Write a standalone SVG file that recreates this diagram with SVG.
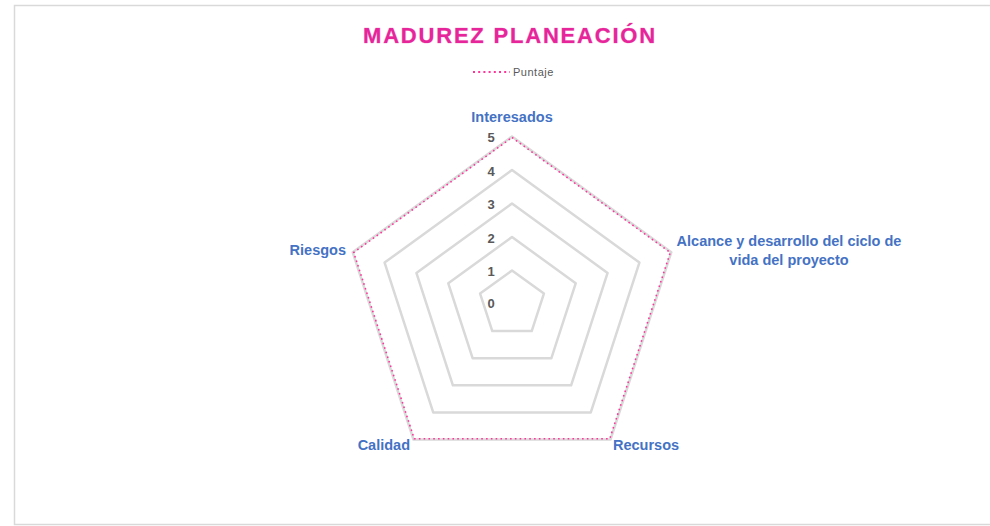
<svg xmlns="http://www.w3.org/2000/svg" width="990" height="526" viewBox="0 0 990 526">
<style>
.grid{fill:none;stroke:#d9d9d9;stroke-width:2.5;stroke-linejoin:round}
.series{fill:none;stroke:#ff3399;stroke-width:1.6;stroke-dasharray:1.6 3.2;stroke-linejoin:round}
.cat{font-family:"Liberation Sans",Arial,sans-serif;font-weight:bold;font-size:14.5px;fill:#4472c4}
.tick{font-family:"Liberation Sans",Arial,sans-serif;font-weight:bold;font-size:13px;fill:#595959}
.title{font-family:"Liberation Sans",Arial,sans-serif;font-weight:bold;font-size:22px;fill:#e6259b;letter-spacing:1.8px;stroke:#f7a6d3;stroke-width:0.6;paint-order:stroke}
.legend{font-family:"Liberation Sans",Arial,sans-serif;font-size:11px;fill:#595959;letter-spacing:0.5px}
</style>
<rect x="14.5" y="5.5" width="1000" height="519" fill="#ffffff" stroke="#d9d9d9" stroke-width="1.5"/>
<text class="title" x="510" y="43" text-anchor="middle">MADUREZ PLANEACIÓN</text>
<g id="legend">
<line x1="473" y1="72" x2="510" y2="72" stroke="#ff3399" stroke-width="2" stroke-dasharray="2 3.2"/>
<text class="legend" x="513" y="76">Puntaje</text>
</g>
<g id="grid">
<polygon class="grid" points="512,270.5 543.9,293.6 531.7,331.1 492.3,331.1 480.1,293.6"/>
<polygon class="grid" points="512,237 575.7,283.3 551.4,358.2 472.6,358.2 448.3,283.3"/>
<polygon class="grid" points="512,203.5 607.6,272.9 571.1,385.3 452.9,385.3 416.4,272.9"/>
<polygon class="grid" points="512,170 639.4,262.6 590.8,412.4 433.2,412.4 384.6,262.6"/>
<polygon class="grid" points="512,136.5 671.3,252.2 610.5,439.5 413.5,439.5 352.7,252.2"/>
</g>
<g id="connectors">
<polygon id="series-puntaje" class="series" points="512,137.5 670.3,252.5 609.8,438.7 414.2,438.7 353.7,252.5"/>
</g>
<g id="ticks">
<text class="tick" x="491" y="142" text-anchor="middle">5</text>
<text class="tick" x="491" y="175.5" text-anchor="middle">4</text>
<text class="tick" x="491" y="209" text-anchor="middle">3</text>
<text class="tick" x="491" y="242.5" text-anchor="middle">2</text>
<text class="tick" x="491" y="276" text-anchor="middle">1</text>
<text class="tick" x="491" y="307.5" text-anchor="middle">0</text>
</g>
<g id="node-interesados"><text class="cat" x="512" y="122" text-anchor="middle">Interesados</text></g>
<g id="node-alcance"><text class="cat" x="789" y="246" text-anchor="middle">Alcance y desarrollo del ciclo de</text><text class="cat" x="789" y="265" text-anchor="middle">vida del proyecto</text></g>
<g id="node-recursos"><text class="cat" x="613" y="450">Recursos</text></g>
<g id="node-calidad"><text class="cat" x="410" y="450" text-anchor="end">Calidad</text></g>
<g id="node-riesgos"><text class="cat" x="346" y="255" text-anchor="end">Riesgos</text></g>
</svg>
